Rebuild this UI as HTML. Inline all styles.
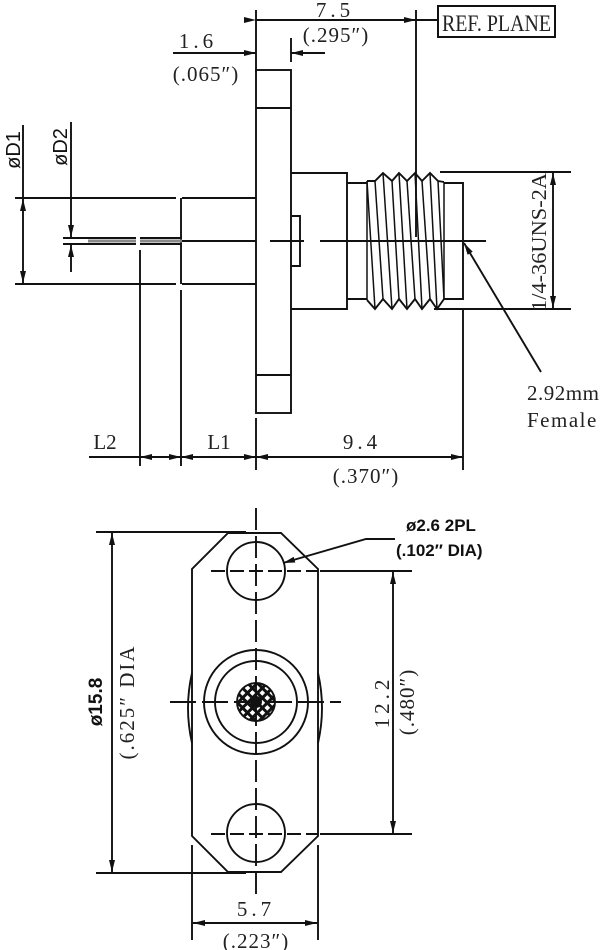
<!DOCTYPE html>
<html><head><meta charset="utf-8"><style>
html,body{margin:0;padding:0;background:#fff}
svg{display:block}
.s{font-family:"Liberation Serif",serif;fill:#222}
.a{font-family:"Liberation Sans",sans-serif;fill:#111}
</style></head><body>
<svg width="600" height="950" viewBox="0 0 600 950" xmlns="http://www.w3.org/2000/svg">
<defs>
<marker id="ar" markerWidth="12" markerHeight="6" refX="12" refY="3" orient="auto" markerUnits="userSpaceOnUse">
<path d="M0,0 L12,3 L0,6 Z" fill="#111"/></marker>
<pattern id="hx" width="7" height="7" patternUnits="userSpaceOnUse" patternTransform="rotate(45)">
<rect width="7" height="7" fill="#111"/><rect x="1.5" y="1.5" width="4" height="4" fill="#fff"/></pattern>
</defs>
<g stroke="#111" stroke-width="1.9" fill="none">
<line x1="256" y1="10" x2="256" y2="72"/>
<line x1="416" y1="10" x2="416" y2="237"/>
<line x1="256" y1="20" x2="416" y2="20" marker-start="url(#ar)" marker-end="url(#ar)"/>
<line x1="416" y1="20" x2="438" y2="20"/>
<rect x="438" y="6" width="117" height="31" stroke-width="2"/>
<line x1="173" y1="53" x2="256" y2="53" marker-end="url(#ar)"/>
<line x1="325" y1="53" x2="291" y2="53" marker-end="url(#ar)"/>
<line x1="291" y1="38" x2="291" y2="62"/>
<rect x="256" y="70" width="35" height="343"/>
<line x1="256" y1="108" x2="291" y2="108"/>
<line x1="256" y1="375" x2="291" y2="375"/>
<path d="M291,173 H347 V309 H291"/>
<path d="M291,216 H300 V266 H291"/>
<path d="M347,183 H367 M347,299 H367"/>
<polyline points="367,181 375,181 383,173 392,181 399,173 407,181 415,173 422,181 430,173 438,181 444,182"/>
<polyline points="367,300 375,309 383,299 392,309 399,299 407,309 415,299 422,309 430,299 437,309 444,299"/>
<g stroke-width="1.5">
<line x1="367" y1="181" x2="375" y2="309"/><line x1="375" y1="181" x2="383" y2="299"/>
<line x1="383" y1="173" x2="392" y2="309"/><line x1="392" y1="181" x2="399" y2="299"/>
<line x1="399" y1="173" x2="407" y2="309"/><line x1="407" y1="181" x2="415" y2="299"/>
<line x1="415" y1="173" x2="422" y2="309"/><line x1="422" y1="181" x2="430" y2="299"/>
<line x1="430" y1="173" x2="437" y2="309"/><line x1="438" y1="181" x2="444" y2="299"/>
<line x1="444" y1="182" x2="444" y2="299"/><line x1="367" y1="181" x2="367" y2="300"/>
</g>
<path d="M444,183 H463 V299 H444"/>
<line x1="440" y1="172" x2="571" y2="172"/>
<line x1="434" y1="309" x2="571" y2="309"/>
<line x1="553" y1="240" x2="553" y2="173" marker-end="url(#ar)"/>
<line x1="553" y1="240" x2="553" y2="308" marker-end="url(#ar)"/>
<line x1="270" y1="241" x2="304" y2="241"/>
<line x1="320" y1="241" x2="486" y2="241"/>
<line x1="541" y1="372" x2="464" y2="243" marker-end="url(#ar)"/>
<line x1="23" y1="125" x2="23" y2="197"/>
<line x1="23" y1="241" x2="23" y2="199" marker-end="url(#ar)"/>
<line x1="23" y1="241" x2="23" y2="283" marker-end="url(#ar)"/>
<line x1="15" y1="198" x2="176" y2="198"/>
<line x1="182" y1="198" x2="256" y2="198"/>
<line x1="15" y1="284" x2="176" y2="284"/>
<line x1="182" y1="284" x2="256" y2="284"/>
<line x1="181" y1="198" x2="181" y2="284"/>
<line x1="71" y1="122" x2="71" y2="237" marker-end="url(#ar)"/>
<line x1="71" y1="272" x2="71" y2="245" marker-end="url(#ar)"/>
<line x1="63" y1="238" x2="136" y2="238"/><line x1="140" y1="238" x2="182" y2="238"/>
<line x1="63" y1="244" x2="136" y2="244"/><line x1="140" y1="244" x2="182" y2="244"/>
<line x1="182" y1="241" x2="256" y2="241"/>
<rect x="88" y="239.5" width="48" height="3" fill="#888" stroke="none"/>
<rect x="140" y="239.5" width="42" height="3" fill="#888" stroke="none"/>
<line x1="140" y1="250" x2="140" y2="466"/>
<line x1="181" y1="290" x2="181" y2="466"/>
<line x1="256" y1="418" x2="256" y2="470"/>
<line x1="463" y1="310" x2="463" y2="470"/>
<line x1="89" y1="457" x2="140" y2="457"/>
<line x1="160" y1="457" x2="140" y2="457" marker-end="url(#ar)"/>
<line x1="160" y1="457" x2="181" y2="457" marker-end="url(#ar)"/>
<line x1="218" y1="457" x2="181" y2="457" marker-end="url(#ar)"/>
<line x1="218" y1="457" x2="256" y2="457" marker-end="url(#ar)"/>
<line x1="360" y1="457" x2="256" y2="457" marker-end="url(#ar)"/>
<line x1="360" y1="457" x2="463" y2="457" marker-end="url(#ar)"/>

<path d="M228,533 H281 L318,569 V836 L281,872 H228 L192,836 V569 Z"/>
<path d="M192,673 Q184,708 192,743 M318,673 Q326,708 318,743"/>
<circle cx="256" cy="571" r="29"/>
<circle cx="256" cy="833" r="29"/>
<circle cx="256" cy="702" r="52"/>
<circle cx="256" cy="702" r="41"/>
<circle cx="256" cy="702" r="19" fill="url(#hx)"/>
<circle cx="256" cy="702" r="5" fill="#111"/>
<line x1="256" y1="508" x2="256" y2="895" stroke-dasharray="22,6"/>
<line x1="211" y1="571" x2="318" y2="571" stroke-dasharray="14,5"/>
<line x1="211" y1="834" x2="318" y2="834" stroke-dasharray="14,5"/>
<line x1="170" y1="702" x2="341" y2="702" stroke-dasharray="26,6"/>
<line x1="96" y1="532" x2="246" y2="532"/>
<line x1="96" y1="873" x2="246" y2="873"/>
<line x1="112" y1="700" x2="112" y2="533" marker-end="url(#ar)"/>
<line x1="112" y1="700" x2="112" y2="872" marker-end="url(#ar)"/>
<line x1="320" y1="571" x2="412" y2="571"/>
<line x1="320" y1="834" x2="412" y2="834"/>
<line x1="393" y1="700" x2="393" y2="572" marker-end="url(#ar)"/>
<line x1="393" y1="700" x2="393" y2="833" marker-end="url(#ar)"/>
<line x1="192" y1="845" x2="192" y2="940"/>
<line x1="318" y1="845" x2="318" y2="940"/>
<line x1="255" y1="923" x2="193" y2="923" marker-end="url(#ar)"/>
<line x1="255" y1="923" x2="317" y2="923" marker-end="url(#ar)"/>
<polyline points="395,539 366,539 283,563" marker-end="url(#ar)" fill="none"/>
</g>
<g class="s" font-size="21">
<text x="335" y="17" text-anchor="middle" letter-spacing="4">7.5</text>
<text x="336" y="42" text-anchor="middle" letter-spacing="1">(.295″)</text>
<text x="198" y="48" text-anchor="middle" letter-spacing="4">1.6</text>
<text x="206" y="81" text-anchor="middle" letter-spacing="1">(.065″)</text>
<text x="442" y="31" textLength="109" lengthAdjust="spacingAndGlyphs" font-size="23">REF. PLANE</text>
<text x="527" y="400" letter-spacing="0.5">2.92mm</text>
<text x="527" y="427" letter-spacing="1.5">Female</text>
<text x="105" y="449" text-anchor="middle">L2</text>
<text x="219" y="449" text-anchor="middle">L1</text>
<text x="362" y="449" text-anchor="middle" letter-spacing="4">9.4</text>
<text x="366" y="483" text-anchor="middle" letter-spacing="1">(.370″)</text>
<text transform="translate(546,242) rotate(-90)" text-anchor="middle" textLength="138" lengthAdjust="spacingAndGlyphs">1/4-36UNS-2A</text>
<text transform="translate(134,702) rotate(-90)" text-anchor="middle" letter-spacing="2">(.625″  DIA</text>
<text transform="translate(389,702) rotate(-90)" text-anchor="middle" letter-spacing="4">12.2</text>
<text transform="translate(414,702) rotate(-90)" text-anchor="middle" letter-spacing="1">(.480″)</text>
<text x="256" y="916" text-anchor="middle" letter-spacing="4">5.7</text>
<text x="256" y="948" text-anchor="middle" letter-spacing="1">(.223″)</text>
</g>
<g class="a" font-size="20">
<text transform="translate(20,150) rotate(-90)" text-anchor="middle">øD1</text>
<text transform="translate(67,147) rotate(-90)" text-anchor="middle">øD2</text>
<text transform="translate(102,702) rotate(-90)" text-anchor="middle" font-weight="bold" font-size="19">ø15.8</text>
<text x="406" y="531" font-size="17" font-weight="bold">ø2.6  2PL</text>
<text x="396" y="556" font-size="17" font-weight="bold">(.102″  DIA)</text>
</g>
</svg>
</body></html>
